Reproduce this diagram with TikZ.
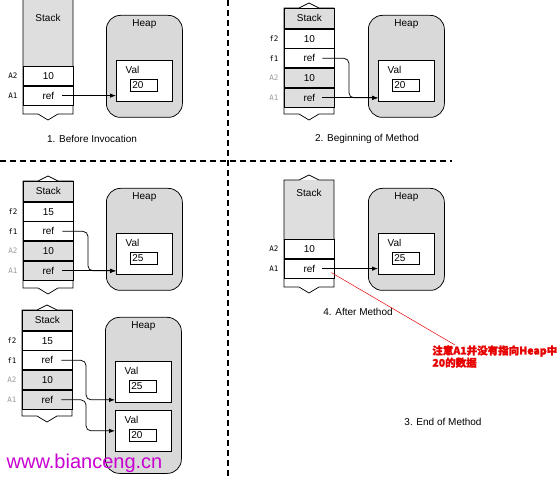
\documentclass[tikz,border=0pt]{standalone}
\usepackage{fontspec}
\setmainfont{Liberation Sans}
\setmonofont{DejaVu Sans Mono}
\newfontfamily\cjk[FakeBold=2]{Noto Sans CJK SC}
\usetikzlibrary{positioning,arrows.meta}
\definecolor{cellgray}{gray}{0.87}
\definecolor{heapgray}{gray}{0.85}
\definecolor{wmark}{RGB}{200,0,210}
\definecolor{note}{RGB}{230,0,0}
% torn stack outline: x, top edge, bottom edge
\newcommand{\torn}[3]{\draw (#1,#2) -- ++(15,0) -- ++(10,-5) -- ++(10,5) -- ++(15,0) -- (#1+50,#3) -- ++(-15,0) -- ++(-10,6) -- ++(-10,-6) -- ++(-15,0) -- cycle;}

\begin{document}
\begin{tikzpicture}[x=1pt,y=-1pt,line width=0.75pt,>={Latex[length=6pt,width=4.5pt]}]
\tikzstyle{txt} = [font=\fontsize{10}{12}\selectfont]
\tikzstyle{cell} = [rectangle, draw, fill=white, minimum width=50pt, minimum height=19pt, inner sep=0pt, txt]
\tikzstyle{oldcell} = [cell, fill=cellgray]
\tikzstyle{head} = [cell, fill=cellgray, minimum height=20pt]
\tikzstyle{var} = [font=\ttfamily\fontsize{7.5}{9}\selectfont]
\tikzstyle{oldvar} = [var, text=gray!80]
\tikzstyle{heap} = [rectangle, draw, fill=heapgray, rounded corners=14pt, minimum width=76pt, minimum height=102pt, anchor=north west]
\tikzstyle{valbox} = [rectangle, draw, fill=white, minimum width=56pt, minimum height=41pt, anchor=north west]
\tikzstyle{numbox} = [rectangle, draw, fill=white, minimum height=12pt, text width=23pt, inner xsep=2pt, inner ysep=0pt, align=left, anchor=north west, txt]
\tikzstyle{ptr} = [->, rounded corners=5pt]
\tikzstyle{sep} = [dash pattern=on 6pt off 4pt, line width=1.3pt]
\useasboundingbox (0,0) rectangle (560,478);

% separators
\draw[sep] (228,0) -- (228,478);
\draw[sep] (0,161) -- (452,161);

% 1. Before Invocation
\fill[cellgray] (23,0) rectangle (73,66);
\torn{23}{-10}{114}
\node[txt] at (48,18) {Stack};
\node[cell, anchor=north west] (aA2) at (23,66) {10};
\node[cell, below=0pt of aA2] (aA1) {ref};
\node[var, left=2pt of aA2] {A2};
\node[var, left=2pt of aA1] {A1};
\node[heap] (aheap) at (106,15) {};
\node[txt, below=1pt of aheap.north] {Heap};
\node[valbox] (aval) at (116,60) {};
\node[txt, anchor=north west] at ([shift={(6,3)}]aval.north west) {Val};
\node[numbox] (anum) at ([shift={(14,19)}]aval.north west) {20};
\draw[->] ([xshift=14pt]aA1.center) -- (aval.west |- aA1.center);
\node[txt] at (92,139) {1. Before Invocation};

% 2. Beginning of Method
\torn{284}{8}{114}
\node[head, anchor=north west] (bhead) at (284,8) {Stack};
\node[cell, below=0pt of bhead] (bf2) {10};
\node[cell, below=0pt of bf2] (bf1) {ref};
\node[oldcell, below=0pt of bf1] (bA2) {10};
\node[oldcell, below=0pt of bA2] (bA1) {ref};
\node[var, left=2pt of bf2] {f2};
\node[var, left=2pt of bf1] {f1};
\node[oldvar, left=2pt of bA2] {A2};
\node[oldvar, left=2pt of bA1] {A1};
\node[heap] (bheap) at (368,15) {};
\node[txt, below=1pt of bheap.north] {Heap};
\node[valbox] (bval) at (378,60) {};
\node[txt, anchor=north west] at ([shift={(6,3)}]bval.north west) {Val};
\node[numbox] (bnum) at ([shift={(14,19)}]bval.north west) {20};
\coordinate (bbend) at (349,0);
\draw[ptr] ([xshift=13pt]bf1.center) -| (bbend |- bA1.center) -- (bval.west |- bA1.center);
\draw[->] ([xshift=13pt]bA1.center) -- (bval.west |- bA1.center);
\node[txt] at (367,139) {2. Beginning of Method};

% during the method
\torn{23}{181}{288}
\node[head, anchor=north west] (chead) at (23,181) {Stack};
\node[cell, below=0pt of chead] (cf2) {15};
\node[cell, below=0pt of cf2] (cf1) {ref};
\node[oldcell, below=0pt of cf1] (cA2) {10};
\node[oldcell, below=0pt of cA2] (cA1) {ref};
\node[var, left=2pt of cf2] {f2};
\node[var, left=2pt of cf1] {f1};
\node[oldvar, left=2pt of cA2] {A2};
\node[oldvar, left=2pt of cA1] {A1};
\node[heap] (cheap) at (106,188) {};
\node[txt, below=1pt of cheap.north] {Heap};
\node[valbox] (cval) at (116,233) {};
\node[txt, anchor=north west] at ([shift={(6,3)}]cval.north west) {Val};
\node[numbox] (cnum) at ([shift={(14,19)}]cval.north west) {25};
\coordinate (cbend) at (88,0);
\draw[ptr] ([xshift=14pt]cf1.center) -| (cbend |- cA1.center) -- (cval.west |- cA1.center);
\draw[->] ([xshift=14pt]cA1.center) -- (cval.west |- cA1.center);

% new object for f1
\torn{22}{310}{416}
\node[head, anchor=north west] (dhead) at (22,310) {Stack};
\node[cell, below=0pt of dhead] (df2) {15};
\node[cell, below=0pt of df2] (df1) {ref};
\node[oldcell, below=0pt of df1] (dA2) {10};
\node[oldcell, below=0pt of dA2] (dA1) {ref};
\node[var, left=2pt of df2] {f2};
\node[var, left=2pt of df1] {f1};
\node[oldvar, left=2pt of dA2] {A2};
\node[oldvar, left=2pt of dA1] {A1};
\node[heap, minimum height=156pt] (dheap) at (105,317) {};
\node[txt, below=1pt of dheap.north] {Heap};
\node[valbox] (dval1) at (115,361) {};
\node[txt, anchor=north west] at ([shift={(6,3)}]dval1.north west) {Val};
\node[numbox] (dnum1) at ([shift={(14,19)}]dval1.north west) {25};
\node[valbox] (dval2) at (115,410) {};
\node[txt, anchor=north west] at ([shift={(6,3)}]dval2.north west) {Val};
\node[numbox] (dnum2) at ([shift={(14,19)}]dval2.north west) {20};
\coordinate (dbend) at (86,0);
\draw[ptr] ([xshift=14pt]df1.center) -| (dbend |- dA1.center) -- (dval1.west |- dA1.center);
\draw[ptr] ([xshift=14pt]dA1.center) -| (dbend |- dval2.west) -- (dval2.west);
\node[txt, text=wmark, font=\fontsize{20}{24}\selectfont, anchor=west] at (3,463) {www.bianceng.cn};

% 4. After Method
\fill[cellgray] (284,180) rectangle (334,239);
\torn{284}{180}{287}
\node[txt] at (309,193) {Stack};
\node[cell, anchor=north west] (eA2) at (284,239) {10};
\node[cell, below=0pt of eA2] (eA1) {ref};
\node[var, left=2pt of eA2] {A2};
\node[var, left=2pt of eA1] {A1};
\node[heap] (eheap) at (368,188) {};
\node[txt, below=1pt of eheap.north] {Heap};
\node[valbox] (eval) at (378,233) {};
\node[txt, anchor=north west] at ([shift={(6,3)}]eval.north west) {Val};
\node[numbox] (enum) at ([shift={(14,19)}]eval.north west) {25};
\draw[->] ([xshift=13pt]eA1.center) -- (eval.west |- eA1.center);
\node[txt] at (358,312) {4. After Method};
\node[anchor=north west, inner sep=0pt, align=left, text=note, font=\cjk\bfseries\fontsize{10.5}{11}\selectfont] (note) at (432,345) {注意A1并没有指向Heap中\\20的数据};
\draw[note, line width=0.5pt] ([shift={(22,4)}]eA1.center) -- ([xshift=23pt]note.north west);
\node[txt] at (443,422) {3. End of Method};
\end{tikzpicture}
\end{document}
